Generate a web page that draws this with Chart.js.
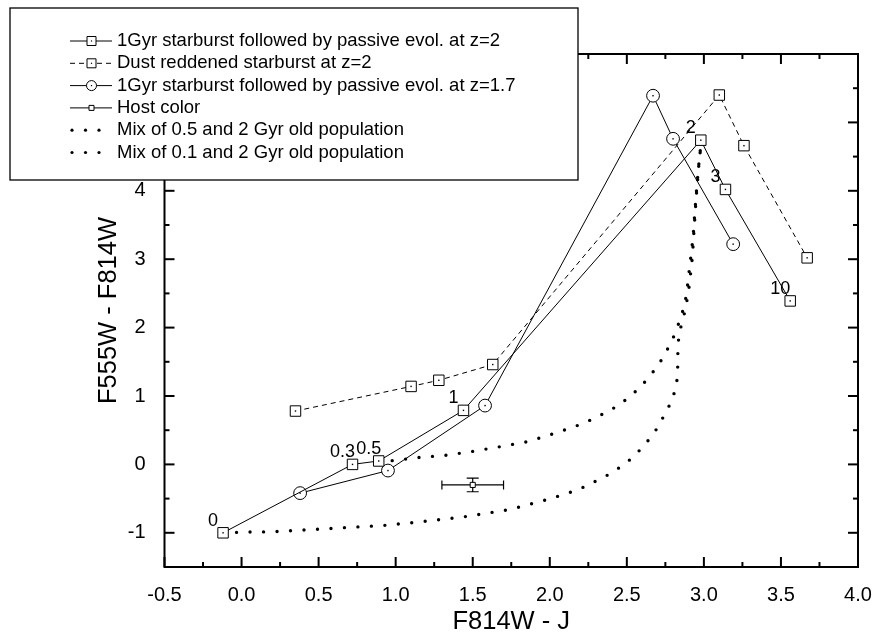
<!DOCTYPE html>
<html><head><meta charset="utf-8">
<script src="https://cdn.jsdelivr.net/npm/chart.js@4.4.0/dist/chart.umd.min.js"></script>
<style>html,body{margin:0;padding:0;background:#fff}</style>
</head><body>
<canvas id="c" width="873" height="640"></canvas>
<script>
// ---- data ----
const sbZ2X = [-0.12, 0.72, 0.89, 1.44, 2.98, 3.14, 3.56];
const sbZ2Y = [-1.00, 0.00, 0.05, 0.79, 4.74, 4.02, 2.39];
const sbZ2Ages = ['0', '0.3', '0.5', '1', '2', '3', '10'];

const dustX = [0.35, 1.10, 1.28, 1.63, 3.10, 3.26, 3.67];
const dustY = [0.78, 1.14, 1.23, 1.46, 5.40, 4.66, 3.02];

const sbZ17X = [0.38, 0.95, 1.58, 2.67, 2.80, 3.19];
const sbZ17Y = [-0.42, -0.09, 0.86, 5.39, 4.76, 3.22];

const hostX = [1.50];
const hostY = [-0.30];
const hostXErr = [0.20];
const hostYErr = [0.10];

const mix05X = [0.89, 0.96, 1.15, 1.33, 1.50, 1.68, 1.86, 2.04, 2.22, 2.40, 2.49, 2.58, 2.66, 2.72, 2.77, 2.815, 2.845, 2.874, 2.889, 2.899, 2.910, 2.920, 2.930, 2.936, 2.943, 2.949, 2.957, 2.964, 2.975, 2.98];
const mix05Y = [0.05, 0.05, 0.10, 0.135, 0.19, 0.26, 0.335, 0.46, 0.60, 0.80, 0.94, 1.11, 1.32, 1.51, 1.71, 1.92, 2.12, 2.32, 2.52, 2.72, 2.93, 3.13, 3.32, 3.53, 3.73, 3.93, 4.12, 4.33, 4.53, 4.74];

const mix01X = [-0.12, 0.03, 0.20, 0.94, 1.20, 1.465, 1.74, 2.00, 2.185, 2.365, 2.454, 2.542, 2.625, 2.691, 2.741, 2.787, 2.819, 2.830, 2.830, 2.832, 2.839, 2.865, 2.884, 2.900, 2.910, 2.921, 2.928, 2.933, 2.939, 2.945, 2.951, 2.958, 2.965, 2.975, 2.98];
const mix01Y = [-1.00, -0.99, -0.985, -0.89, -0.83, -0.76, -0.66, -0.505, -0.37, -0.17, -0.044, 0.106, 0.31, 0.51, 0.71, 0.91, 1.12, 1.32, 1.52, 1.72, 1.92, 2.12, 2.32, 2.52, 2.72, 2.93, 3.13, 3.32, 3.53, 3.73, 3.93, 4.12, 4.33, 4.53, 4.74];

const xMajor = [-0.5, 0, 0.5, 1, 1.5, 2, 2.5, 3, 3.5, 4];
const xMinor = [-0.25, 0.25, 0.75, 1.25, 1.75, 2.25, 2.75, 3.25, 3.75];
const yMajor = [-1, 0, 1, 2, 3, 4, 5];
const yMinor = [-1.5, -0.5, 0.5, 1.5, 2.5, 3.5, 4.5, 5.5];

const legendLabels = [
  '1Gyr starburst followed by passive evol. at z=2',
  'Dust reddened starburst at z=2',
  '1Gyr starburst followed by passive evol. at z=1.7',
  'Host color',
  'Mix of 0.5 and 2 Gyr old population',
  'Mix of 0.1 and 2 Gyr old population'
];
const xTitle = 'F814W - J';
const yTitle = 'F555W - F814W';

// ---- helpers ----
const pts = (xs, ys) => xs.map((x, i) => ({x: x, y: ys[i]}));
const FONT = '"Liberation Sans", Arial, Helvetica, sans-serif';
Chart.defaults.font.family = FONT;
Chart.defaults.color = '#000';

const markerBase = {showLine: true, borderColor: '#000', borderWidth: 1, tension: 0,
  pointBackgroundColor: '#fff', pointBorderColor: '#000', pointBorderWidth: 1, pointHoverRadius: 0};
const dotBase = {showLine: true, borderColor: '#000', borderWidth: 3.4, borderDash: [0, 13.5],
  borderCapStyle: 'round', pointRadius: 0, tension: 0};

const datasets = [
  Object.assign({label: legendLabels[0], data: pts(sbZ2X, sbZ2Y), pointStyle: 'rect', pointRadius: 7.4, centerDot: true, ages: sbZ2Ages, legendSize: 9}, markerBase),
  Object.assign({label: legendLabels[1], data: pts(dustX, dustY), pointStyle: 'rect', pointRadius: 7.4, borderDash: [5, 4], centerDot: true, legendSize: 9}, markerBase),
  Object.assign({label: legendLabels[2], data: pts(sbZ17X, sbZ17Y), pointStyle: 'circle', pointRadius: 6.4, centerDot: true, legendSize: 10}, markerBase),
  Object.assign({label: legendLabels[3], data: pts(hostX, hostY), pointStyle: 'rect', pointRadius: 3.6, errX: hostXErr, errY: hostYErr, legendSize: 5}, markerBase),
  Object.assign({label: legendLabels[4], data: pts(mix05X, mix05Y), dotted: true}, dotBase),
  Object.assign({label: legendLabels[5], data: pts(mix01X, mix01Y), dotted: true}, dotBase)
];

const decor = {
  id: 'decor',
  beforeDatasetsDraw(chart) {
    const {ctx, scales: {x, y}} = chart;
    ctx.save();
    ctx.strokeStyle = '#000'; ctx.lineWidth = 1.2;
    chart.data.datasets.forEach(ds => {
      if (!ds.errX) return;
      ds.data.forEach((p, i) => {
        const px = x.getPixelForValue(p.x), py = y.getPixelForValue(p.y);
        const x0 = x.getPixelForValue(p.x - ds.errX[i]), x1 = x.getPixelForValue(p.x + ds.errX[i]);
        const y0 = y.getPixelForValue(p.y + ds.errY[i]), y1 = y.getPixelForValue(p.y - ds.errY[i]);
        ctx.beginPath();
        ctx.moveTo(x0, py); ctx.lineTo(x1, py);
        ctx.moveTo(x0, py - 4.5); ctx.lineTo(x0, py + 4.5);
        ctx.moveTo(x1, py - 4.5); ctx.lineTo(x1, py + 4.5);
        ctx.moveTo(px, y0); ctx.lineTo(px, y1);
        ctx.moveTo(px - 6, y0); ctx.lineTo(px + 6, y0);
        ctx.moveTo(px - 6, y1); ctx.lineTo(px + 6, y1);
        ctx.stroke();
      });
    });
    ctx.restore();
  },
  afterDatasetsDraw(chart) {
    const {ctx, chartArea: a, scales: {x, y}} = chart;
    ctx.save();
    ctx.fillStyle = '#000';
    chart.data.datasets.forEach(ds => {
      if (!ds.centerDot) return;
      ds.data.forEach(p => {
        const px = x.getPixelForValue(p.x), py = y.getPixelForValue(p.y);
        ctx.fillRect(px - 0.7, py - 0.7, 1.4, 1.4);
      });
    });
    ctx.font = '18px ' + FONT;
    ctx.textAlign = 'center'; ctx.textBaseline = 'middle';
    chart.data.datasets.forEach(ds => {
      if (!ds.ages) return;
      ds.data.forEach((p, i) => {
        const px = x.getPixelForValue(p.x), py = y.getPixelForValue(p.y);
        ctx.fillText(ds.ages[i], px - 10, py - 12);
      });
    });
    ctx.strokeStyle = '#000'; ctx.lineWidth = 2;
    ctx.strokeRect(a.left, a.top, a.right - a.left, a.bottom - a.top);
    const t = (px, py, dx, dy) => { ctx.beginPath(); ctx.moveTo(px, py); ctx.lineTo(px + dx, py + dy); ctx.stroke(); };
    xMajor.forEach(v => { const p = x.getPixelForValue(v); t(p, a.bottom, 0, -10); t(p, a.top, 0, 10); });
    xMinor.forEach(v => { const p = x.getPixelForValue(v); t(p, a.bottom, 0, -5); t(p, a.top, 0, 5); });
    yMajor.forEach(v => { const p = y.getPixelForValue(v); t(a.left, p, 10, 0); t(a.right, p, -10, 0); });
    yMinor.forEach(v => { const p = y.getPixelForValue(v); t(a.left, p, 5, 0); t(a.right, p, -5, 0); });
    ctx.restore();
  },
  afterDraw(chart) {
    const {ctx} = chart;
    ctx.save();
    const bx = 10, by = 8, bw = 568, bh = 172;
    ctx.fillStyle = '#fff'; ctx.fillRect(bx, by, bw, bh);
    ctx.strokeStyle = '#000'; ctx.lineWidth = 1.3; ctx.strokeRect(bx, by, bw, bh);
    const rowY0 = 41, rowStep = 22.3;
    ctx.font = '18.5px ' + FONT; ctx.textBaseline = 'middle'; ctx.textAlign = 'left';
    chart.data.datasets.forEach((ds, i) => {
      const ry = rowY0 + i * rowStep;
      ctx.strokeStyle = '#000'; ctx.fillStyle = '#000';
      if (ds.dotted) {
        [72, 85.5, 99].forEach(dx => { ctx.beginPath(); ctx.arc(dx, ry, 1.6, 0, Math.PI * 2); ctx.fill(); });
      } else {
        ctx.lineWidth = 1;
        ctx.setLineDash(ds.borderDash || []);
        ctx.beginPath(); ctx.moveTo(70, ry); ctx.lineTo(112, ry); ctx.stroke();
        ctx.setLineDash([]);
        const s = ds.legendSize / 2;
        ctx.fillStyle = '#fff';
        ctx.beginPath();
        if (ds.pointStyle === 'circle') ctx.arc(91.5, ry, s, 0, Math.PI * 2);
        else ctx.rect(91.5 - s, ry - s, 2 * s, 2 * s);
        ctx.fill(); ctx.stroke();
        if (ds.centerDot) { ctx.fillStyle = '#000'; ctx.fillRect(90.9, ry - 0.6, 1.2, 1.2); }
      }
      ctx.fillStyle = '#000';
      ctx.fillText(ds.label, 117, ry);
    });
    ctx.restore();
  }
};

new Chart(document.getElementById('c'), {
  type: 'scatter',
  data: {datasets: datasets},
  options: {
    responsive: false, animation: false, devicePixelRatio: 1,
    layout: {padding: {left: 90, right: 15, top: 54, bottom: 0}},
    plugins: {legend: {display: false}, tooltip: {enabled: false}},
    elements: {line: {fill: false}},
    scales: {
      x: {
        type: 'linear', min: -0.5, max: 4.0,
        afterBuildTicks: s => { s.ticks = xMajor.map(v => ({value: v})); },
        afterFit: s => { s.height = 73; s.paddingLeft = 0; s.paddingRight = 0; },
        ticks: {callback: v => Number(v).toFixed(1), font: {size: 20}, color: '#000', padding: 8, maxRotation: 0, autoSkip: false},
        grid: {display: false}, border: {display: false},
        title: {display: true, text: xTitle, font: {size: 25.5}, color: '#000', padding: {top: 4, bottom: 3}}
      },
      y: {
        type: 'linear', min: -1.5, max: 6.0,
        afterBuildTicks: s => { s.ticks = yMajor.map(v => ({value: v})); },
        afterFit: s => { s.width = 74.5; s.paddingTop = 0; s.paddingBottom = 0; },
        ticks: {callback: v => String(v), font: {size: 20}, color: '#000', padding: 11, autoSkip: false},
        grid: {display: false}, border: {display: false},
        title: {display: true, text: yTitle, font: {size: 25.5}, color: '#000', padding: {top: 4, bottom: 4}}
      }
    }
  },
  plugins: [decor]
});
</script>
</body></html>
